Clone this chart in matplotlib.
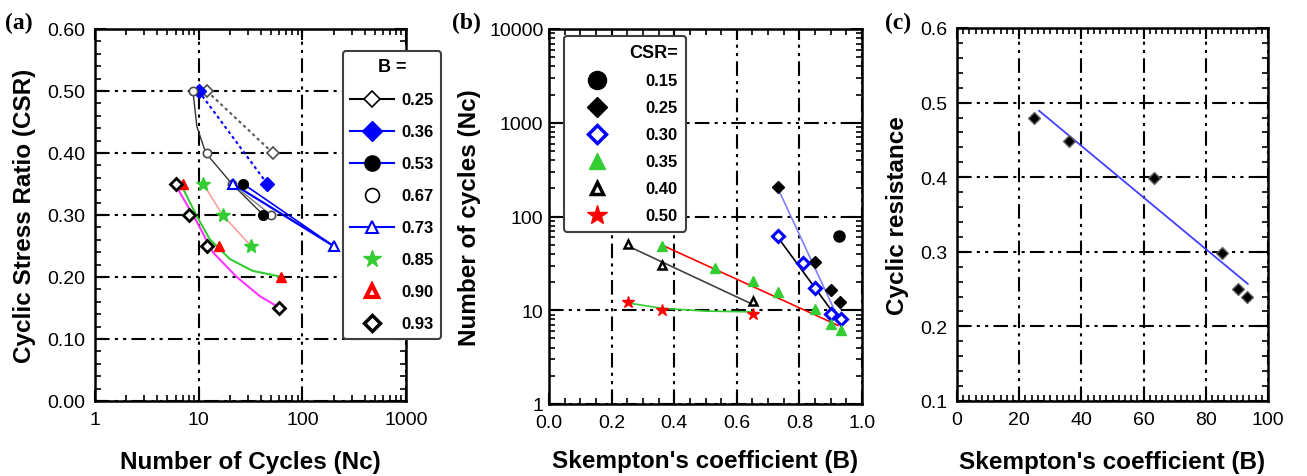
import numpy as np
import matplotlib
matplotlib.use("Agg")
import matplotlib.pyplot as plt
from matplotlib.lines import Line2D
from matplotlib.ticker import (MultipleLocator, LogLocator, FixedLocator,
                               NullFormatter, FormatStrFormatter)

plt.rcParams['font.family'] = ['Liberation Sans', 'DejaVu Sans']

# ---------------- (a) CSR vs Nc, one series per B ----------------
a_b025_nc = [12, 52]
a_b025_csr = [0.50, 0.40]
a_b036_nc = [10, 46]
a_b036_csr = [0.50, 0.35]
a_b053_nc = [27, 42]
a_b053_csr = [0.35, 0.30]
a_b067_nc = [8.9, 12, 21, 50]
a_b067_csr = [0.50, 0.40, 0.35, 0.30]
a_b073_nc = [21.5, 200]
a_b073_csr = [0.35, 0.25]
a_b085_nc = [11.1, 17, 32]
a_b085_csr = [0.35, 0.30, 0.25]
a_b090_nc = [7.1, 15.8, 62]
a_b090_csr = [0.35, 0.25, 0.20]
a_b093_nc = [6.0, 8.1, 12.1, 60]
a_b093_csr = [0.35, 0.30, 0.25, 0.15]

# connecting lines
a_black_nc = [8.8, 9.6, 11.7, 21, 42]
a_black_csr = [0.50, 0.443, 0.40, 0.35, 0.30]
a_gray_nc = [21, 50]
a_gray_csr = [0.35, 0.30]
a_blue2_nc = [27, 200]
a_blue2_csr = [0.35, 0.25]
a_green_nc = [7.1, 9.6, 12.8, 20, 33, 60]
a_green_csr = [0.342, 0.298, 0.261, 0.229, 0.210, 0.201]
a_mag_nc = [6.3, 9.6, 13.7, 23.3, 39, 58]
a_mag_csr = [0.342, 0.289, 0.240, 0.200, 0.169, 0.152]

b_values = ["0.25", "0.36", "0.53", "0.67", "0.73", "0.85", "0.90", "0.93"]

# ---------------- (b) Nc vs B, one series per CSR ----------------
b_c015_b = [0.928]
b_c015_nc = [62]
b_c025_b = [0.733, 0.85, 0.90, 0.93]
b_c025_nc = [204, 33, 16.4, 12.3]
b_c030_b = [0.733, 0.81, 0.85, 0.90, 0.933]
b_c030_nc = [62, 32, 17.3, 9.2, 8.0]
b_c035_b = [0.361, 0.53, 0.651, 0.731, 0.85, 0.90, 0.933]
b_c035_nc = [48.6, 27.9, 20.6, 15.5, 10.4, 7.2, 6.2]
b_c040_b = [0.251, 0.361, 0.651]
b_c040_nc = [51.5, 30.7, 12.5]
b_c050_b = [0.251, 0.361, 0.651]
b_c050_nc = [12.3, 10.0, 9.2]

b_blue_b = [0.73, 0.92]
b_blue_nc = [204, 8.8]
b_black_b = [0.728, 0.905]
b_black_nc = [62, 9.7]
b_red_b = [0.364, 0.923]
b_red_nc = [49, 6.9]
b_gray_b = [0.249, 0.652]
b_gray_nc = [49, 11.5]
b_green_b = [0.25, 0.36, 0.50, 0.65]
b_green_nc = [12, 10.5, 9.8, 9.6]

csr_values = ["0.15", "0.25", "0.30", "0.35", "0.40", "0.50"]

# ---------------- (c) cyclic resistance vs B ----------------
c_b = [24.8, 36.1, 63.2, 85.2, 90.2, 93.4]
c_res = [0.479, 0.449, 0.399, 0.299, 0.250, 0.240]
c_fit_b = [26.4, 93.5]
c_fit_res = [0.489, 0.257]

GREEN = "#33cc33"
MAGENTA = "#ff33ff"
PINK = "#ff9f9f"
BLUE = "#0000ff"
GRID_DASH = (0, (7, 2.5, 1.5, 2.5, 1.5, 2.5))

fig = plt.figure(figsize=(13.07, 4.77), dpi=100)
ax_a = fig.add_axes([95 / 1307, 75 / 477, 311 / 1307, 372 / 477])
ax_b = fig.add_axes([549 / 1307, 72 / 477, 313 / 1307, 375 / 477])
ax_c = fig.add_axes([957 / 1307, 75 / 477, 311 / 1307, 373 / 477])


def style_axes(ax):
    for s in ax.spines.values():
        s.set_linewidth(1.8)
    ax.tick_params(which="both", direction="in", top=True, right=True,
                   labelsize=14, pad=7)
    ax.tick_params(which="major", length=8, width=1.5)
    ax.tick_params(which="minor", length=4, width=1.2)
    ax.grid(True, which="major", color="k", linewidth=1.5, linestyle=GRID_DASH)
    ax.set_axisbelow(True)


# ----- panel (a)
ax = ax_a
ax.set_xscale("log")
ax.set_xlim(1, 1000)
ax.set_ylim(0, 0.6)
ax.yaxis.set_major_locator(MultipleLocator(0.1))
ax.yaxis.set_minor_locator(MultipleLocator(0.02))
ax.yaxis.set_major_formatter(FormatStrFormatter("%.2f"))
ax.xaxis.set_major_locator(FixedLocator([1, 10, 100, 1000]))
ax.xaxis.set_major_formatter(FormatStrFormatter("%g"))
ax.xaxis.set_minor_locator(LogLocator(base=10, subs=np.arange(2, 10)))
ax.xaxis.set_minor_formatter(NullFormatter())
style_axes(ax)

ax.plot(a_b025_nc, a_b025_csr, color="0.35", lw=1.5, ls=(0, (1.5, 1.5)))
ax.plot(a_b036_nc, a_b036_csr, color=BLUE, lw=1.5, ls=(0, (1.5, 1.5)))
ax.plot(a_black_nc, a_black_csr, color="0.2", lw=1.0)
ax.plot(a_gray_nc, a_gray_csr, color="0.5", lw=1.0)
ax.plot(a_b073_nc, a_b073_csr, color=BLUE, lw=1.6)
ax.plot(a_blue2_nc, a_blue2_csr, color=BLUE, lw=1.2)
ax.plot(a_b085_nc, a_b085_csr, color=PINK, lw=1.2)
ax.plot(a_green_nc, a_green_csr, color=GREEN, lw=1.5)
ax.plot(a_mag_nc, a_mag_csr, color=MAGENTA, lw=1.5)

ax.plot(a_b025_nc, a_b025_csr, ls="none", marker="D", ms=6, mfc="white", mec="0.3", mew=1.2)
ax.plot(a_b036_nc, a_b036_csr, ls="none", marker="D", ms=7, mfc=BLUE, mec=BLUE)
ax.plot(a_b067_nc, a_b067_csr, ls="none", marker="o", ms=6, mfc="white", mec="0.3", mew=1.2)
ax.plot(a_b053_nc, a_b053_csr, ls="none", marker="o", ms=7, mfc="k", mec="k")
ax.plot(a_b073_nc, a_b073_csr, ls="none", marker="^", ms=7, mfc="white", mec=BLUE, mew=1.5)
ax.plot(a_b085_nc, a_b085_csr, ls="none", marker="*", ms=10, mfc=GREEN, mec=GREEN)
ax.plot(a_b090_nc, a_b090_csr, ls="none", marker="^", ms=7, mfc="red", mec="red")
ax.plot(a_b093_nc, a_b093_csr, ls="none", marker="D", ms=6, mfc="white", mec="k", mew=2)

ax.set_xlabel("Number of Cycles (Nc)", fontsize=17.5, fontweight="bold", labelpad=16)
ax.set_ylabel("Cyclic Stress Ratio (CSR)", fontsize=17.5, fontweight="bold", labelpad=8)

a_handles = [
    Line2D([], [], color="k", lw=1.5, marker="D", ms=8, mfc="white", mec="k", mew=1.2),
    Line2D([], [], color=BLUE, lw=1.5, marker="D", ms=10, mfc=BLUE, mec=BLUE),
    Line2D([], [], color=BLUE, lw=1.5, marker="o", ms=11, mfc="k", mec="k"),
    Line2D([], [], ls="none", marker="o", ms=10, mfc="white", mec="k", mew=1.2),
    Line2D([], [], color=BLUE, lw=1.5, marker="^", ms=9, mfc="white", mec=BLUE, mew=1.5),
    Line2D([], [], ls="none", marker="*", ms=13, mfc=GREEN, mec=GREEN),
    Line2D([], [], ls="none", marker="^", ms=9, mfc="white", mec="red", mew=3),
    Line2D([], [], ls="none", marker="D", ms=8, mfc="white", mec="k", mew=2.5),
]
leg = ax.legend(a_handles, b_values, title="B =", loc="upper left",
                bbox_to_anchor=(0.797, 0.941), borderaxespad=0,
                prop={"weight": "bold", "size": 12},
                title_fontproperties={"weight": "bold", "size": 13},
                handlelength=2.6, handletextpad=0.45, labelspacing=1.02,
                borderpad=0.45, fancybox=True, framealpha=1,
                edgecolor="0.25")
leg.get_frame().set_linewidth(1.5)
leg.set_zorder(5)

# ----- panel (b)
ax = ax_b
ax.set_yscale("log")
ax.set_xlim(0, 1.0)
ax.set_ylim(1, 10000)
ax.xaxis.set_major_locator(MultipleLocator(0.2))
ax.xaxis.set_minor_locator(MultipleLocator(0.05))
ax.xaxis.set_major_formatter(FormatStrFormatter("%.1f"))
ax.yaxis.set_major_locator(FixedLocator([1, 10, 100, 1000, 10000]))
ax.yaxis.set_major_formatter(FormatStrFormatter("%g"))
ax.yaxis.set_minor_locator(LogLocator(base=10, subs=np.arange(2, 10)))
ax.yaxis.set_minor_formatter(NullFormatter())
style_axes(ax)
ax.tick_params(axis="y", pad=4)

ax.plot(b_blue_b, b_blue_nc, color="#8080ff", lw=1.2)
ax.plot(b_black_b, b_black_nc, color="k", lw=1.2)
ax.plot(b_red_b, b_red_nc, color="red", lw=1.2)
ax.plot(b_gray_b, b_gray_nc, color="0.25", lw=1.2)
ax.plot(b_green_b, b_green_nc, color=GREEN, lw=1.2)

ax.plot(b_c015_b, b_c015_nc, ls="none", marker="o", ms=8, mfc="k", mec="k")
ax.plot(b_c025_b, b_c025_nc, ls="none", marker="D", ms=6, mfc="k", mec="k")
ax.plot(b_c030_b, b_c030_nc, ls="none", marker="D", ms=6.5, mfc="white", mec=BLUE, mew=2.2)
ax.plot(b_c035_b, b_c035_nc, ls="none", marker="^", ms=6.5, mfc=GREEN, mec=GREEN)
ax.plot(b_c040_b, b_c040_nc, ls="none", marker="^", ms=6, mfc="white", mec="k", mew=1.8)
ax.plot(b_c050_b, b_c050_nc, ls="none", marker="*", ms=9, mfc="red", mec="red")

ax.set_xlabel("Skempton's coefficient (B)", fontsize=17.5, fontweight="bold", labelpad=13)
ax.set_ylabel("Number of cycles (Nc)", fontsize=17.5, fontweight="bold", labelpad=6)

b_handles = [
    Line2D([], [], ls="none", marker="o", ms=13, mfc="k", mec="k"),
    Line2D([], [], ls="none", marker="D", ms=10, mfc="k", mec="k"),
    Line2D([], [], ls="none", marker="D", ms=9, mfc="white", mec=BLUE, mew=2.5),
    Line2D([], [], ls="none", marker="^", ms=11, mfc=GREEN, mec=GREEN),
    Line2D([], [], ls="none", marker="^", ms=9, mfc="white", mec="k", mew=2.5),
    Line2D([], [], ls="none", marker="*", ms=15, mfc="red", mec="red"),
]
leg = ax.legend(b_handles, csr_values, title="CSR=", loc="upper left",
                bbox_to_anchor=(0.048, 0.981), borderaxespad=0,
                prop={"weight": "bold", "size": 12},
                title_fontproperties={"weight": "bold", "size": 13},
                handlelength=2.9, handletextpad=1.5, labelspacing=0.72,
                borderpad=0.5, fancybox=True, framealpha=1,
                edgecolor="0.25")
leg.get_frame().set_linewidth(1.5)
leg._legend_box.align = "right"

# ----- panel (c)
ax = ax_c
ax.set_xlim(0, 100)
ax.set_ylim(0.1, 0.6)
ax.xaxis.set_major_locator(MultipleLocator(20))
ax.xaxis.set_minor_locator(MultipleLocator(2))
ax.xaxis.set_major_formatter(FormatStrFormatter("%d"))
ax.yaxis.set_major_locator(MultipleLocator(0.1))
ax.yaxis.set_minor_locator(MultipleLocator(0.02))
ax.yaxis.set_major_formatter(FormatStrFormatter("%.1f"))
style_axes(ax)

ax.plot(c_fit_b, c_fit_res, color="#4040ff", lw=1.3)
ax.plot(c_b, c_res, ls="none", marker="D", ms=6, mfc="k", mec="0.4", mew=1)

ax.set_xlabel("Skempton's coefficient (B)", fontsize=17.5, fontweight="bold", labelpad=16)
ax.set_ylabel("Cyclic resistance", fontsize=17.5, fontweight="bold", labelpad=8)

# panel letters
for x, lab in [(5, "(a)"), (452, "(b)"), (885, "(c)")]:
    fig.text(x / 1307, 1 - 23 / 477, lab, fontsize=17, fontweight="bold",
             family="Liberation Serif", va="center", ha="left")

fig.savefig("out.png", dpi=100)
